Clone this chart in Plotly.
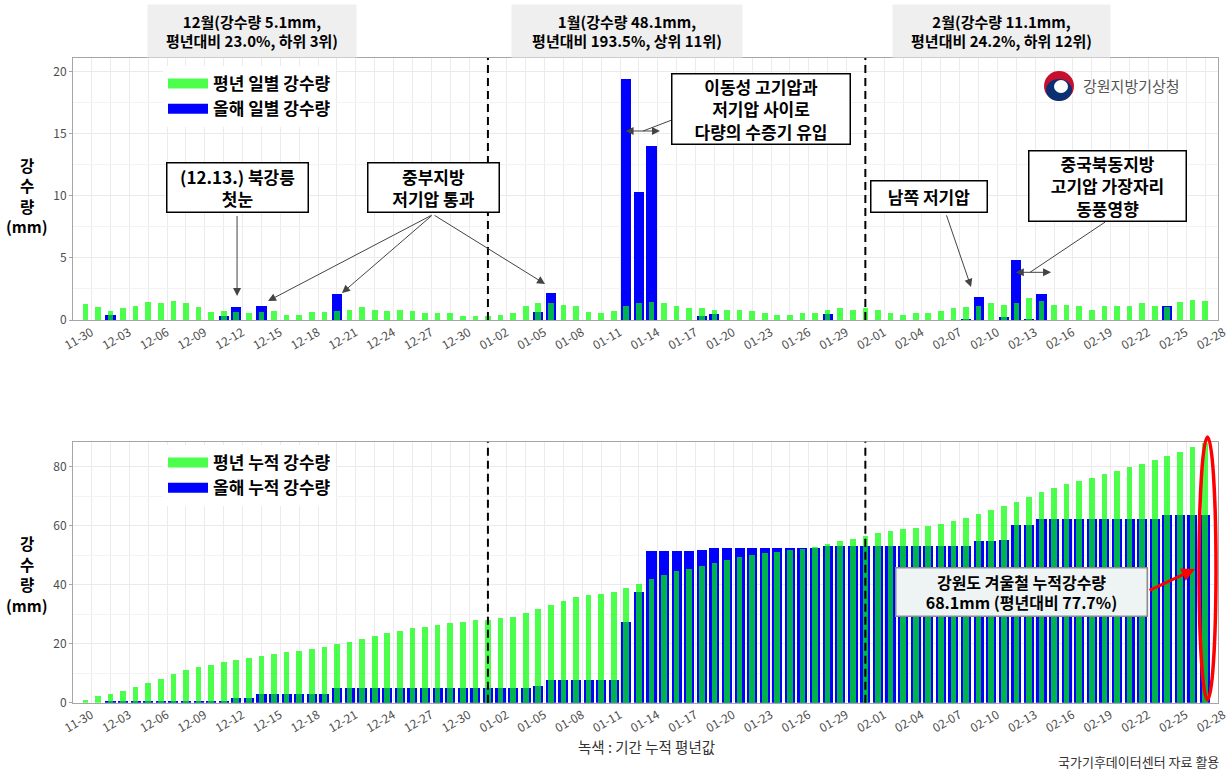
import plotly.graph_objects as go

W, H = 1231, 772

# ---------------- data ----------------
day_index = list(range(90))  # 90 winter days (bars), left to right

tick_labels = ["11-30", "12-03", "12-06", "12-09", "12-12", "12-15", "12-18", "12-21", "12-24", "12-27", "12-30",
               "01-02", "01-05", "01-08", "01-11", "01-14", "01-17", "01-20", "01-23", "01-26", "01-29",
               "02-01", "02-04", "02-07", "02-10", "02-13", "02-16", "02-19", "02-22", "02-25", "02-28"]

normal_daily = [
    1.27, 1.03, 0.76, 0.95, 1.14, 1.46, 1.35, 1.54, 1.35, 1.03,
    0.65, 0.76, 0.62, 0.54, 0.65, 0.76, 0.40, 0.40, 0.65, 0.65,
    0.76, 0.84, 1.03, 0.84, 0.76, 0.84, 0.76, 0.54, 0.54, 0.54,
    0.35, 0.35, 0.32, 0.43, 0.54, 1.14, 1.35, 1.35, 1.24, 1.14,
    0.65, 0.54, 0.76, 1.14, 1.35, 1.46, 1.35, 1.14, 0.95, 0.95,
    0.84, 0.84, 0.84, 0.76, 0.54, 0.43, 0.43, 0.54, 0.54, 0.84,
    0.95, 0.84, 0.95, 0.84, 0.54, 0.43, 0.54, 0.54, 0.76, 0.95,
    1.03, 1.14, 1.35, 1.24, 1.35, 1.76, 1.54, 1.24, 1.24, 1.14,
    0.84, 1.14, 1.14, 1.14, 1.35, 1.14, 1.03, 1.46, 1.65, 1.54]

this_year_daily = [
    0, 0, 0.4, 0, 0, 0, 0, 0, 0, 0,
    0, 0.3, 1.05, 0, 1.15, 0, 0, 0, 0, 0,
    2.1, 0, 0, 0, 0, 0, 0, 0, 0, 0,
    0, 0, 0, 0, 0, 0, 0.65, 2.2, 0, 0,
    0, 0, 0, 19.4, 10.3, 14.0, 0, 0, 0, 0.35,
    0.45, 0, 0, 0, 0, 0, 0, 0, 0, 0.45,
    0, 0, 0, 0, 0, 0, 0, 0, 0, 0,
    0.05, 1.85, 0, 0.25, 4.8, 0.05, 2.1, 0, 0, 0,
    0, 0, 0, 0, 0, 0, 1.15, 0, 0, 0]

normal_cum = [
    1.1, 2.3, 3.1, 4.0, 5.3, 6.8, 8.2, 9.9, 11.3, 12.3,
    13.0, 13.8, 14.5, 15.1, 15.9, 16.6, 17.2, 17.7, 18.4, 19.1,
    19.9, 20.8, 21.8, 22.8, 23.6, 24.5, 25.3, 25.9, 26.5, 27.2,
    27.6, 28.0, 28.2, 28.7, 29.2, 30.5, 31.9, 33.3, 34.6, 35.8,
    36.5, 37.1, 37.7, 39.1, 40.5, 42.0, 43.4, 44.6, 45.6, 46.6,
    47.5, 48.5, 49.4, 50.2, 50.8, 51.3, 51.8, 52.3, 52.9, 53.8,
    54.8, 55.7, 56.7, 57.5, 58.3, 58.9, 59.3, 59.9, 60.7, 61.8,
    62.8, 64.1, 65.5, 66.8, 68.2, 69.9, 71.5, 72.9, 74.4, 75.4,
    76.4, 77.5, 78.8, 79.9, 81.2, 82.5, 83.6, 85.1, 86.8, 88.0]

this_year_cum = [
    0, 0, 0.4, 0.4, 0.4, 0.4, 0.4, 0.4, 0.4, 0.4,
    0.4, 0.7, 1.75, 1.75, 2.9, 2.9, 2.9, 2.9, 2.9, 2.9,
    5.0, 5.0, 5.0, 5.0, 5.0, 5.0, 5.0, 5.0, 5.0, 5.0,
    5.0, 5.0, 5.0, 5.0, 5.0, 5.0, 5.6, 7.9, 7.9, 7.9,
    7.9, 7.9, 7.9, 27.3, 37.6, 51.6, 51.6, 51.6, 51.6, 52.0,
    52.5, 52.5, 52.5, 52.5, 52.5, 52.5, 52.5, 52.5, 52.5, 53.1,
    53.1, 53.1, 53.1, 53.1, 53.1, 53.1, 53.1, 53.1, 53.1, 53.1,
    53.2, 55.1, 55.1, 55.3, 60.3, 60.3, 62.5, 62.5, 62.5, 62.5,
    62.5, 62.5, 62.5, 62.5, 62.5, 62.5, 63.6, 63.6, 63.6, 63.6]

month_lines = [32, 62]

month_titles = ["12월(강수량 5.1mm,<br>평년대비 23.0%, 하위 3위)",
                "1월(강수량 48.1mm,<br>평년대비 193.5%, 상위 11위)",
                "2월(강수량 11.1mm,<br>평년대비 24.2%, 하위 12위)"]
month_title_x = [13.25, 43.06, 72.79]
month_title_w = [208, 230, 217]

# ---------------- figure ----------------
FONT = "Noto Sans CJK KR, Noto Sans, sans-serif"
BLUE = "#0000ff"
GREEN = "rgba(0,255,0,0.7)"
GRID = "#ebebeb"
LINE = "#a6a6a6"
TICKC = "#4d4d4d"

fig = go.Figure()

fig.add_trace(go.Bar(x=day_index, y=this_year_daily, width=0.8, showlegend=False,
                     marker=dict(color=BLUE, line=dict(width=0)),
                     xaxis="x", yaxis="y", hoverinfo="skip"))
fig.add_trace(go.Bar(x=day_index, y=normal_daily, width=0.45, showlegend=False,
                     marker=dict(color=GREEN, line=dict(width=0)),
                     xaxis="x", yaxis="y", hoverinfo="skip"))
fig.add_trace(go.Bar(x=day_index, y=this_year_cum, width=0.8, showlegend=False,
                     marker=dict(color=BLUE, line=dict(width=0)),
                     xaxis="x2", yaxis="y2", hoverinfo="skip"))
fig.add_trace(go.Bar(x=day_index, y=normal_cum, width=0.45, showlegend=False,
                     marker=dict(color=GREEN, line=dict(width=0)),
                     xaxis="x2", yaxis="y2", hoverinfo="skip"))

# legend keys (wide rectangular swatches like the reference)
legend_items = [("<b>평년 일별 강수량</b>", GREEN, "legend", "x", "y", 1),
                ("<b>올해 일별 강수량</b>", BLUE, "legend", "x", "y", 2),
                ("<b>평년 누적 강수량</b>", GREEN, "legend2", "x2", "y2", 1),
                ("<b>올해 누적 강수량</b>", BLUE, "legend2", "x2", "y2", 2)]
for nm, col, lg, xa, ya, rk in legend_items:
    fig.add_trace(go.Scatter(x=[None], y=[None], mode="lines", name=nm, legend=lg, legendrank=rk,
                             line=dict(color=col, width=14), xaxis=xa, yaxis=ya, hoverinfo="skip"))

xdom = [73 / W, 1218 / W]


def xaxis_cfg(anchor):
    return dict(domain=xdom, anchor=anchor, range=[-0.98, 90.03], automargin=False,
                tickmode="array", tickvals=[3 * k for k in range(len(tick_labels))], ticktext=tick_labels,
                tickangle=-30, ticklabelshift=6, tickfont=dict(size=12, color=TICKC, family=FONT),
                showgrid=False, ticks="",
                minor=dict(tickmode="array", tickvals=[0.5 + 1.5 * k for k in range(60)],
                           showgrid=True, gridcolor=GRID, gridwidth=1, ticks=""),
                showline=True, linecolor=LINE, linewidth=1, mirror=True, zeroline=False)


def yaxis_cfg(anchor, dom, rng, dt):
    return dict(domain=dom, anchor=anchor, range=rng, tick0=0, dtick=dt, automargin=False,
                tickfont=dict(size=12, color=TICKC, family=FONT),
                showgrid=True, gridcolor=GRID, gridwidth=1,
                minor=dict(dtick=dt / 2, showgrid=True, gridcolor="#f3f3f3", gridwidth=1),
                showline=True, linecolor=LINE, linewidth=1, mirror=True, zeroline=False,
                ticks="outside", ticklen=3, tickcolor=LINE)


fig.update_layout(
    width=W, height=H, margin=dict(l=0, r=0, t=0, b=0, autoexpand=False),
    paper_bgcolor="white", plot_bgcolor="white", barmode="overlay", bargap=0,
    font=dict(family=FONT, color="black"),
    showlegend=True,
    xaxis=xaxis_cfg("y"),
    yaxis=yaxis_cfg("x", [1 - 320 / H, 1 - 58 / H], [0, 21.1], 5),
    xaxis2=xaxis_cfg("y2"),
    yaxis2=yaxis_cfg("x2", [1 - 702.7 / H, 1 - 441.7 / H], [0, 88.5], 20),
    legend=dict(x=163 / W, y=1 - 66 / H, xanchor="left", yanchor="top", bgcolor="white",
                font=dict(size=17, family=FONT, color="black"), tracegroupgap=0, itemclick=False,
                itemwidth=40),
    legend2=dict(x=163 / W, y=1 - 445 / H, xanchor="left", yanchor="top", bgcolor="white",
                 font=dict(size=17, family=FONT, color="black"), tracegroupgap=0, itemclick=False,
                 itemwidth=40),
)

shapes = []
for xm in month_lines:
    for xr, yr in (("x", "y domain"), ("x2", "y2 domain")):
        shapes.append(dict(type="line", xref=xr, yref=yr, x0=xm, x1=xm, y0=0, y1=1,
                           line=dict(color="black", width=2, dash="8px,5px"), layer="above"))


def P(x, y):
    return x / W, 1 - y / H


# red ellipse around the final cumulative bar
ex0, ey0 = P(1199, 700)
ex1, ey1 = P(1216, 437)
shapes.append(dict(type="circle", xref="paper", yref="paper", x0=ex0, x1=ex1, y0=ey0, y1=ey1,
                   line=dict(color="#ff0000", width=3.5), layer="above"))

# logo emblem (approximation)
cx, cy, r = 1059, 86, 15
a0, b0 = P(cx - r, cy + r)
a1, b1 = P(cx + r, cy - r)
shapes.append(dict(type="circle", xref="paper", yref="paper", x0=a0, x1=a1, y0=b0, y1=b1,
                   fillcolor="#c8102e", line=dict(width=0)))
a0, b0 = P(cx - r + 2, cy + r)
a1, b1 = P(cx + r - 2, cy - r + 8)
shapes.append(dict(type="circle", xref="paper", yref="paper", x0=a0, x1=a1, y0=b0, y1=b1,
                   fillcolor="#0b2f73", line=dict(width=0)))
a0, b0 = P(cx - 5, cy + 7)
a1, b1 = P(cx + 9, cy - 6)
shapes.append(dict(type="circle", xref="paper", yref="paper", x0=a0, x1=a1, y0=b0, y1=b1,
                   fillcolor="white", line=dict(width=0)))

# plain connector lines from callout boxes to their double arrows
shapes.append(dict(type="line", xref="x", yref="y", x0=46.63, y0=16.11, x1=44.33, y1=15.22,
                   line=dict(color="#444444", width=1)))
shapes.append(dict(type="line", xref="x", yref="y", x0=81.06, y0=7.89, x1=75.09, y1=3.84,
                   line=dict(color="#444444", width=1)))

fig.update_layout(shapes=shapes)

ann = []


def box(x, y, text, w, h, xref="x", yref="y", size=17, bg="white", border="black", bw=1.5):
    ann.append(dict(x=x, y=y, xref=xref, yref=yref, text=text, showarrow=False,
                    xanchor="center", yanchor="middle", align="center",
                    width=w - 3, height=h - 3, borderpad=0, bgcolor=bg,
                    bordercolor=border, borderwidth=bw,
                    font=dict(size=size, family=FONT, color="black")))


def arrow(x, y, ax, ay, xref="x", yref="y", side="end", color="#444444", width=1, size=1.6, head=2):
    ann.append(dict(x=x, y=y, ax=ax, ay=ay, xref=xref, yref=yref, axref=xref, ayref=yref,
                    text="", showarrow=True, arrowhead=head, arrowsize=size, arrowwidth=width,
                    arrowcolor=color, arrowside=side, startarrowhead=head, startarrowsize=size,
                    standoff=0, startstandoff=0))


# month titles
for t, xm, wm in zip(month_titles, month_title_x, month_title_w):
    ann.append(dict(x=xm, y=1 - 31 / H, xref="x", yref="paper", text="<b>" + t + "</b>", showarrow=False,
                    xanchor="center", yanchor="middle", align="center", width=wm, height=52,
                    bgcolor="#efefef", borderpad=0,
                    font=dict(size=15, family=FONT, color="black")))

# y-axis titles (one text per line)
for ytop in (165, 543):
    for k, s in enumerate(["강", "수", "량", "(mm)"]):
        ann.append(dict(x=27 / W, y=1 - (ytop + 20.5 * k) / H, xref="paper", yref="paper",
                        text="<b>" + s + "</b>", showarrow=False, xanchor="center", yanchor="middle",
                        align="center", borderpad=0, font=dict(size=15.5, family=FONT, color="black")))

# top chart callouts
box(12.10, 10.67, "<b>(12.13.) 북강릉<br>첫눈</b>", 143, 51)
arrow(12.06, 1.93, 12.06, 8.50)

box(27.68, 10.67, "<b>중부지방<br>저기압 통과</b>", 133, 51)
arrow(14.52, 1.53, 27.64, 8.50)
arrow(20.40, 2.17, 27.64, 8.50)
arrow(36.54, 2.90, 27.64, 8.50)

box(53.71, 16.99, "<b>이동성 고기압과<br>저기압 사이로<br>다량의 수증기 유입</b>", 180, 72)
arrow(45.68, 15.22, 42.82, 15.22, side="end+start")

box(67.06, 9.95, "<b>남쪽 저기압</b>", 118, 33)
arrow(70.40, 2.66, 68.41, 8.55)

box(81.25, 10.79, "<b>중국북동지방<br>고기압 가장자리<br>동풍영향</b>", 159, 72)
arrow(76.76, 3.84, 73.84, 3.84, side="end+start")

# logo text
ann.append(dict(x=1081 / W, y=1 - 86 / H, xref="paper", yref="paper", text="강원지방기상청",
                showarrow=False, xanchor="left", yanchor="middle",
                font=dict(size=15, family=FONT, color="#555555")))

# bottom chart callout
box(74.42, 37.54, "<b>강원도 겨울철 누적강수량<br>68.1mm (평년대비 77.7%)</b>", 253, 50,
    xref="x2", yref="y2", size=16, bg="#eef4f4", border="#8c8c8c", bw=1.5)
arrow(88.21, 45.34, 84.47, 37.88, xref="x2", yref="y2", color="#ff0000", width=3, size=0.9)

# footnotes
ann.append(dict(x=646 / W, y=1 - 746 / H, xref="paper", yref="paper", text="녹색 : 기간 누적 평년값",
                showarrow=False, xanchor="center", yanchor="middle",
                font=dict(size=14.5, family=FONT, color="#333333")))
ann.append(dict(x=1220 / W, y=1 - 761 / H, xref="paper", yref="paper", text="국가기후데이터센터 자료 활용",
                showarrow=False, xanchor="right", yanchor="middle", borderpad=0,
                font=dict(size=13, family=FONT, color="#333333")))

fig.update_layout(annotations=ann)

fig.write_html("out.html", config={"displayModeBar": False},
               post_script="document.body.style.margin='0px';")
